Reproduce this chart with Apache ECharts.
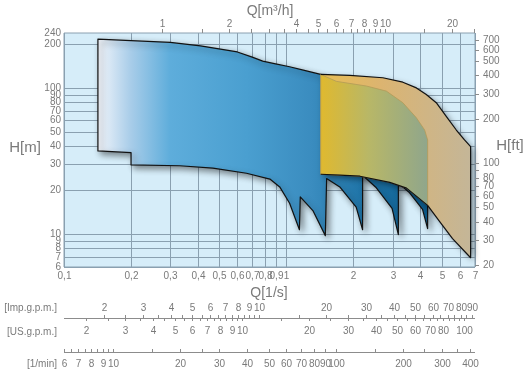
<!DOCTYPE html>
<html>
<head>
<meta charset="utf-8">
<script src="https://cdn.jsdelivr.net/npm/echarts@6/dist/echarts.min.js"></script>
<style>
html, body { margin: 0; padding: 0; background: #fff; }
#main { width: 528px; height: 378px; }
</style>
</head>
<body>
<div id="main"></div>
<script>
// flow Q [l/s] - grid lines + labels
var qTicks = [0.1, 0.2, 0.3, 0.4, 0.5, 0.6, 0.7, 0.8, 0.9, 1, 2, 3, 4, 5, 6, 7];
// head H [m]
var hTicks = [6, 7, 8, 9, 10, 20, 30, 40, 50, 60, 70, 80, 90, 100, 200];
var hLabels = [6, 7, 8, 9, 10, 20, 30, 40, 50, 60, 70, 80, 90, 100, 200, 240];
// top scale Q [m3/h]
var m3hTicks = [1, 1.5, 2, 2.5, 3, 3.5, 4, 4.5, 5, 5.5, 6, 6.5, 7, 7.5, 8, 8.5, 9, 9.5, 10, 15, 20, 25];
var m3hLabels = [1, 2, 4, 5, 6, 7, 8, 9, 10, 20];
// right scale H [ft]
var ftTicks = [20, 30, 40, 50, 60, 70, 80, 90, 100, 200, 300, 400, 500, 600, 700];
var ftLabels = [20, 30, 40, 50, 60, 70, 80, 100, 200, 300, 400, 500, 600, 700];
// bottom scales
var impTicks = [2, 2.5, 3, 3.5, 4, 4.5, 5, 5.5, 6, 6.5, 7, 7.5, 8, 8.5, 9, 9.5, 10, 15, 20, 25, 30, 35, 40, 45, 50, 55, 60, 65, 70, 75, 80, 85, 90];
var impLabels = [2, 3, 4, 5, 6, 7, 8, 9, 10, 20, 30, 40, 50, 60, 70, 80, 90];
var usTicks = [2, 2.5, 3, 3.5, 4, 4.5, 5, 5.5, 6, 6.5, 7, 7.5, 8, 8.5, 9, 9.5, 10, 15, 20, 25, 30, 35, 40, 45, 50, 55, 60, 65, 70, 75, 80, 85, 90, 95, 100];
var usLabels = [2, 3, 4, 5, 6, 7, 8, 9, 10, 20, 30, 40, 50, 60, 70, 80, 100];
var minTicks = [6, 6.5, 7, 7.5, 8, 8.5, 9, 9.5, 10, 15, 20, 25, 30, 40, 50, 60, 70, 80, 90, 100, 150, 200, 250, 300, 350, 400];
var minLabels = [6, 7, 8, 9, 10, 20, 30, 40, 50, 60, 70, 80, 90, 100, 200, 300, 400];

// blue range (Q l/s, H m), outline clockwise
var blueQ = [0.142, 0.20, 0.30, 0.41, 0.60, 0.70, 0.78, 0.88, 1.03, 1.20, 1.42, 2.61, 4.29, 4.29, 4.29,
  4.07, 3.54, 3.17, 3.17, 2.97, 2.51, 2.19, 2.19, 2.05, 1.73, 1.51, 1.49, 1.31, 1.15, 1.14,
  1.03, 0.93, 0.84, 0.66, 0.466, 0.331, 0.20, 0.20, 0.142];
var blueH = [218, 213, 207, 196, 178, 164, 154, 148, 141, 133, 125, 84, 38, 17, 11.0,
  14.9, 19.5, 22.5, 10.0, 15.1, 21.1, 25.5, 10.8, 15.4, 21.2, 24.2, 9.84, 14.6, 18.1, 10.8,
  16.4, 21.2, 24.0, 26.3, 28.5, 29.6, 30, 36.4, 37.4];
// tan range outer
var tanQ = [1.42, 1.92, 2.70, 3.32, 3.82, 4.23, 4.69, 5.20, 5.77, 6.28, 6.69, 6.69, 5.55, 4.85, 4.29, 3.45, 2.90, 2.13, 1.73, 1.42];
var tanH = [125, 123, 118.5, 110.5, 101, 91, 80, 64.4, 52, 44.5, 40, 6.94, 9.39, 12.3, 15.85, 20.8, 22.8, 25.1, 25.5, 25.9];
// tan range inner
var innerQ = [1.42, 1.67, 2.28, 2.80, 3.32, 3.82, 4.16, 4.29, 4.29, 3.45, 2.90, 2.13, 1.73, 1.42];
var innerH = [125, 112, 104, 96, 80, 63, 52, 44.5, 15.85, 20.8, 22.8, 25.1, 25.5, 25.9];

var qMin = 0.1, qMax = 7, hMin = 6, hMax = 240;
var gridColor = '#8aa0b0';
var tickColor = '#8c8c8c';
var textColor = '#7a7a7a';
var font = '"Liberation Sans", Arial, sans-serif';

var crisp = function(v) { return Math.round(v - 0.5) + 0.5; };

var txt = function(x, y, s, align, size) {
  return { type: 'text', x: x, y: y, silent: true,
    style: { text: String(s), fill: textColor, font: (size || 10) + 'px ' + font, align: align || 'center', verticalAlign: 'middle' } };
};

var fmtComma = function(v) { return String(v).replace('.', ','); };

// a scale along Q (ticks + labels), factor converts l/s -> unit
var rowSeries = function(ticks, labels, factor, lineY, tickLen, labelY, drawLine, fmt) {
  return {
    type: 'custom', silent: true, z: 6,
    data: ticks.map(function(v) { return [v / factor, hMax]; }),
    renderItem: function(params, api) {
      var raw = ticks[params.dataIndex];
      var x = crisp(api.coord([api.value(0), hMax])[0]);
      var ch = [];
      if (tickLen) ch.push({ type: 'line', shape: { x1: x, y1: lineY, x2: x, y2: lineY + tickLen }, style: { stroke: tickColor, lineWidth: 1 } });
      if (labels.indexOf(raw) >= 0) ch.push(txt(x, labelY, fmt ? fmt(raw) : raw));
      if (drawLine && params.dataIndex === 0) {
        var x0 = api.coord([qMin, hMax])[0], x1 = api.coord([qMax, hMax])[0];
        ch.push({ type: 'line', shape: { x1: x0, y1: crisp(lineY), x2: x1, y2: crisp(lineY) }, style: { stroke: tickColor, lineWidth: 1 } });
      }
      return { type: 'group', children: ch };
    }
  };
};

// a scale along H
var colSeries = function(ticks, labels, factor, lineX, tickLen, labelX, align) {
  return {
    type: 'custom', silent: true, z: 6,
    data: ticks.map(function(v) { return [qMin, v / factor]; }),
    renderItem: function(params, api) {
      var raw = ticks[params.dataIndex];
      var y = crisp(api.coord([qMin, api.value(1)])[1]);
      var ch = [];
      if (tickLen) ch.push({ type: 'line', shape: { x1: lineX, y1: y, x2: lineX + tickLen, y2: y }, style: { stroke: tickColor, lineWidth: 1 } });
      if (labels.indexOf(raw) >= 0) ch.push(txt(labelX, y, raw, align));
      return { type: 'group', children: ch };
    }
  };
};

var chart = echarts.init(document.getElementById('main'));

var option = {
  backgroundColor: '#fff',
  animation: false,
  grid: { left: 64, right: 53, top: 33, bottom: 111, show: true, backgroundColor: '#d6edf9', borderColor: gridColor, borderWidth: 1 },
  xAxis: { type: 'log', logBase: 10, min: qMin, max: qMax, axisLine: { show: false }, axisTick: { show: false }, axisLabel: { show: false }, splitLine: { show: false } },
  yAxis: { type: 'log', logBase: 10, min: hMin, max: hMax, axisLine: { show: false }, axisTick: { show: false }, axisLabel: { show: false }, splitLine: { show: false } },
  graphic: [
    txt(25, 148, 'H[m]', 'center', 15),
    txt(510, 146, 'H[ft]', 'center', 15),
    txt(270, 11, 'Q[m³/h]', 'center', 14),
    txt(269, 293, 'Q[1/s]', 'center', 14),
    txt(57, 308, '[Imp.g.p.m.]', 'right', 10),
    txt(57, 332, '[US.g.p.m.]', 'right', 10),
    txt(57, 364, '[1/min]', 'right', 10)
  ],
  series: [
    // vertical grid
    {
      type: 'custom', silent: true, z: 1,
      data: qTicks.map(function(v) { return [v, hMin]; }),
      renderItem: function(params, api) {
        var a = api.coord([api.value(0), hMin]), b = api.coord([api.value(0), hMax]);
        var x = crisp(a[0]);
        return { type: 'line', shape: { x1: x, y1: a[1], x2: x, y2: b[1] }, style: { stroke: gridColor, lineWidth: 1 } };
      }
    },
    // horizontal grid
    {
      type: 'custom', silent: true, z: 1,
      data: hTicks.map(function(v) { return [qMin, v]; }),
      renderItem: function(params, api) {
        var a = api.coord([qMin, api.value(1)]), b = api.coord([qMax, api.value(1)]);
        var y = crisp(a[1]);
        return { type: 'line', shape: { x1: a[0], y1: y, x2: b[0], y2: y }, style: { stroke: gridColor, lineWidth: 1 } };
      }
    },
    // pump ranges
    {
      type: 'custom', silent: true, z: 3,
      data: [[1, 10]],
      renderItem: function(params, api) {
        var pts = function(qs, hs) { return qs.map(function(q, i) { return api.coord([q, hs[i]]); }); };
        var shadow = { shadowBlur: 6, shadowColor: 'rgba(0,0,0,0.45)', shadowOffsetX: 3, shadowOffsetY: 3 };
        var blue = {
          type: 'polygon', shape: { points: pts(blueQ, blueH) },
          style: Object.assign({
            fill: new echarts.graphic.LinearGradient(0, 0, 1, 0, [
              { offset: 0, color: '#f3f6fb' },
              { offset: 0.1, color: '#a9cde9' },
              { offset: 0.22, color: '#5eaddb' },
              { offset: 0.45, color: '#4a9fd0' },
              { offset: 0.65, color: '#3a8cbf' },
              { offset: 0.8, color: '#1f74a7' },
              { offset: 1, color: '#0c5f92' }
            ]),
            stroke: '#111', lineWidth: 1.2, lineJoin: 'round'
          }, shadow)
        };
        var tan = {
          type: 'polygon', shape: { points: pts(tanQ, tanH) },
          style: Object.assign({
            fill: new echarts.graphic.LinearGradient(0, 0, 1, 0, [
              { offset: 0, color: '#e8be55' },
              { offset: 0.4, color: '#dcb470' },
              { offset: 1, color: '#c4b698' }
            ])
          }, shadow)
        };
        var inner = {
          type: 'polygon', shape: { points: pts(innerQ, innerH) },
          style: {
            fill: new echarts.graphic.LinearGradient(0, 0, 1, 0, [
              { offset: 0, color: '#e0b92e' },
              { offset: 0.45, color: '#b8b767' },
              { offset: 1, color: '#8fa68c' }
            ]),
            stroke: '#b39a58', lineWidth: 0.8
          }
        };
        var outline = {
          type: 'polyline', shape: { points: pts(tanQ, tanH) },
          style: { fill: null, stroke: '#111', lineWidth: 1.2, lineJoin: 'round' }
        };
        return { type: 'group', children: [blue, tan, inner, outline] };
      }
    },
    // left H[m] labels
    colSeries(hLabels, hLabels, 1, 64, 0, 61, 'right'),
    // right H[ft]
    colSeries(ftTicks, ftLabels, 3.28084, 475, 4, 483, 'left'),
    // bottom Q[l/s] labels
    rowSeries(qTicks, qTicks, 1, 267, 0, 276, false, fmtComma),
    // top Q[m3/h]
    rowSeries(m3hTicks, m3hLabels, 3.6, 33, -4, 24, false),
    // Imp.g.p.m.
    rowSeries(impTicks, impLabels, 13.2, 318, -3, 308, true),
    // US.g.p.m.
    rowSeries(usTicks, usLabels, 15.85, 318, 3, 331, false),
    // 1/min
    rowSeries(minTicks, minLabels, 60, 352, -3, 364, true)
  ]
};
chart.setOption(option);
</script>
</body>
</html>
